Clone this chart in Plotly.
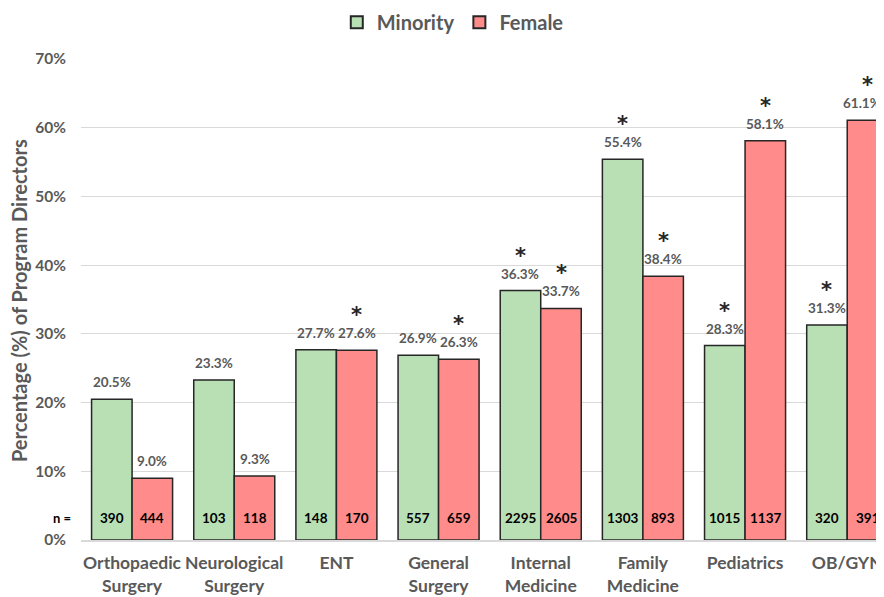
import plotly.graph_objects as go

categories = ["Orthopaedic<br>Surgery", "Neurological<br>Surgery", "ENT", "General<br>Surgery",
              "Internal<br>Medicine", "Family<br>Medicine", "Pediatrics", "OB/GYN"]
minority_pct = [20.5, 23.3, 27.7, 26.9, 36.3, 55.4, 28.3, 31.3]
female_pct = [9.0, 9.3, 27.6, 26.3, 33.7, 38.4, 58.1, 61.1]
minority_n = [390, 103, 148, 557, 2295, 1303, 1015, 320]
female_n = [444, 118, 170, 659, 2605, 893, 1137, 391]
minority_sig = [False, False, False, False, True, True, True, True]
female_sig = [False, False, True, True, True, True, True, True]
y_ticks = [0, 10, 20, 30, 40, 50, 60, 70]
y_tick_labels = ["0%", "10%", "20%", "30%", "40%", "50%", "60%", "70%"]

GREEN = "#b9dfb4"
RED = "#ff8b8b"
EDGE = "#262626"
GRAY = "#595959"
FONT = "Lato"

fig = go.Figure()
fig.add_trace(go.Bar(name="Minority", x=categories, y=minority_pct,
                     marker=dict(color=GREEN, line=dict(color=EDGE, width=1.5))))
fig.add_trace(go.Bar(name="Female", x=categories, y=female_pct,
                     marker=dict(color=RED, line=dict(color=EDGE, width=1.5))))

off = 0.199
last = len(categories) - 1
ann = []
for i in range(len(categories)):
    for val, n, sig, dx in [(minority_pct[i], minority_n[i], minority_sig[i], -off),
                            (female_pct[i], female_n[i], female_sig[i], off)]:
        # keep the right-most label inside the page edge
        xs = -6 if (i == last and dx > 0) else 0
        ann.append(dict(x=i + dx, y=val, xref="x", yref="y", text=f"{val:.1f}%",
                        showarrow=False, yshift=17, xshift=xs, yanchor="middle",
                        font=dict(family=FONT, size=13.5, color=GRAY, weight="bold")))
        if sig:
            ann.append(dict(x=i + dx, y=val, xref="x", yref="y", text="*",
                            showarrow=False, yshift=35, yanchor="middle",
                            font=dict(family="DejaVu Sans", size=21, color="#262626", weight="bold")))
        ann.append(dict(x=i + dx, y=0, xref="x", yref="y", text=str(n),
                        showarrow=False, yshift=22, yanchor="middle",
                        font=dict(family=FONT, size=13.5, color="#000000", weight="bold")))

ann.append(dict(x=-0.024, y=0, xref="paper", yref="y", text="n =", showarrow=False,
                yshift=22, yanchor="middle", xanchor="center",
                font=dict(family=FONT, size=13, color="#000000", weight="bold")))
ann.append(dict(x=-0.077, y=0.497, xref="paper", yref="paper",
                text="Percentage (%) of Program Directors", showarrow=False,
                textangle=-90, xanchor="center", yanchor="middle",
                font=dict(family=FONT, size=20, color=GRAY, weight="bold")))

fig.update_layout(
    width=876, height=589,
    margin=dict(l=73, r=0, t=51, b=57),
    barmode="group", bargap=0.207, bargroupgap=0,
    plot_bgcolor="white", paper_bgcolor="white",
    font=dict(family=FONT, color=GRAY),
    showlegend=True,
    legend=dict(orientation="h", x=0.463, xanchor="center",
                yref="container", y=0.976, yanchor="middle",
                font=dict(family=FONT, size=20, color=GRAY, weight="bold"),
                itemsizing="constant"),
    annotations=ann,
)
fig.update_xaxes(range=[-0.5, 7.36], showline=True, linecolor="#d9d9d9", linewidth=1.5,
                 ticks="", tickangle=0, automargin=False, ticklabelstandoff=6,
                 tickfont=dict(family=FONT, size=17.5, color=GRAY, weight="bold"),
                 showgrid=False)
fig.update_yaxes(range=[0, 70], tickvals=y_ticks, ticktext=y_tick_labels,
                 showgrid=True, gridcolor="#d9d9d9", gridwidth=1, zeroline=False,
                 ticks="", ticklabelstandoff=14, automargin=False,
                 tickfont=dict(family=FONT, size=15.5, color=GRAY, weight="bold"))

fig.write_html("out.html")
